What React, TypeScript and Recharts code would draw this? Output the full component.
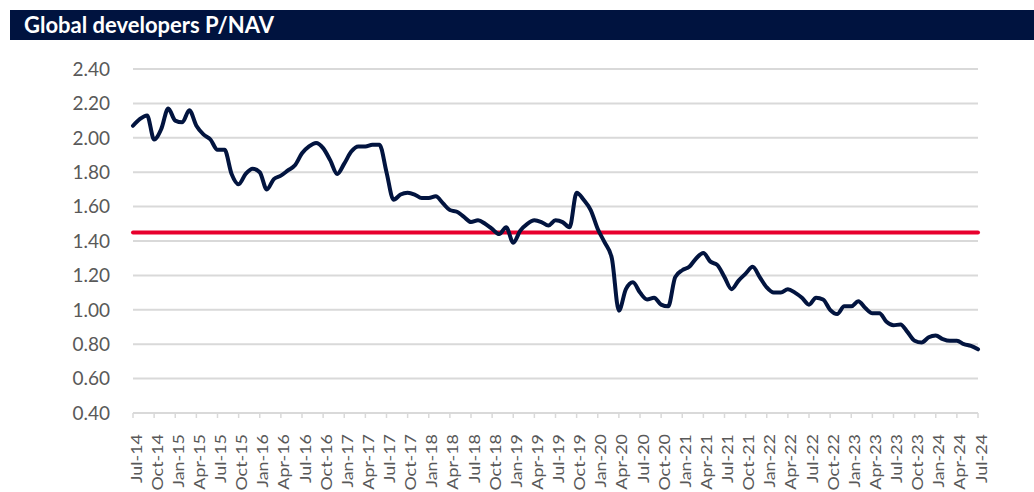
import { CartesianGrid, Line, LineChart, XAxis, YAxis } from "recharts";

const monthNames = ["Jan", "Feb", "Mar", "Apr", "May", "Jun", "Jul", "Aug", "Sep", "Oct", "Nov", "Dec"];

// monthly P/NAV, Jul-14 .. Jul-24
const pnav = [
  2.07, 2.11, 2.13, 1.99, 2.05, 2.17, 2.1, 2.09, 2.16, 2.07, 2.02, 1.99,
  1.93, 1.93, 1.79, 1.73, 1.79, 1.82, 1.8, 1.7, 1.76, 1.78, 1.81, 1.84,
  1.91, 1.95, 1.97, 1.94, 1.87, 1.79, 1.85, 1.92, 1.95, 1.95, 1.96, 1.96,
  1.8, 1.64, 1.67, 1.68, 1.67, 1.65, 1.65, 1.66, 1.62, 1.58, 1.57, 1.54,
  1.51, 1.52, 1.5, 1.47, 1.44, 1.48, 1.39, 1.46, 1.5, 1.52, 1.51, 1.49,
  1.52, 1.51, 1.48, 1.68, 1.64, 1.58, 1.47, 1.39, 1.3, 0.995, 1.12, 1.16,
  1.1, 1.06, 1.07, 1.03, 1.02, 1.19, 1.23, 1.25, 1.3, 1.33, 1.28, 1.26,
  1.19, 1.12, 1.17, 1.21, 1.25, 1.19, 1.13, 1.1, 1.1, 1.12, 1.1, 1.07,
  1.03, 1.07, 1.06, 1.0, 0.975, 1.02, 1.02, 1.05, 1.01, 0.98, 0.98, 0.93,
  0.91, 0.915, 0.87, 0.82, 0.81, 0.84, 0.85, 0.83, 0.82, 0.82, 0.8, 0.79,
  0.77,
];

const average = 1.45;
const yTicks = [0.4, 0.6, 0.8, 1.0, 1.2, 1.4, 1.6, 1.8, 2.0, 2.2, 2.4];

const NAVY = "#02143f";
const RED = "#e8002d";
const GRID = "#d9d9d9";
const TEXT = "#595959";
const FONT = "Lato, 'Open Sans', sans-serif";

// Jul-14 start
const data = pnav.map((v, i) => {
  const m = (6 + i) % 12;
  const yr = 14 + Math.floor((6 + i) / 12);
  return { month: `${monthNames[m]}-${yr}`, pnav: v, avg: average };
});

function MonthTick({ x, y, payload }: { x?: number; y?: number; payload?: { value: string } }) {
  const tx = (x ?? 0) + 3;
  const ty = (y ?? 0) + 14;
  return (
    <text
      transform={`translate(${tx}, ${ty}) rotate(-90) scale(1.12, 1)`}
      textAnchor="end"
      dy="0.35em"
      fontSize={16}
      fill={TEXT}
      fontFamily={FONT}
    >
      {payload?.value}
    </text>
  );
}

export default function App() {
  return (
    <div style={{ position: "relative", width: 1034, height: 492, background: "#fff" }}>
      <style>{"body{margin:0}"}</style>
      <div
        style={{
          position: "absolute",
          left: 10,
          top: 10,
          width: 1024,
          height: 30,
          background: "#00133f",
          color: "#fff",
          fontFamily: FONT,
          fontWeight: 700,
          fontSize: 22,
          lineHeight: "30px",
          paddingLeft: 14,
          boxSizing: "border-box",
        }}
      >
        Global developers P/NAV
      </div>
      <LineChart width={1034} height={492} data={data} margin={{ top: 69, right: 56, left: 0, bottom: 0 }}>
        <CartesianGrid vertical={false} stroke={GRID} strokeWidth={2} />
        <XAxis
          dataKey="month"
          interval={2}
          height={79}
          tick={<MonthTick />}
          tickSize={5}
          tickLine={{ stroke: GRID, strokeWidth: 1.5 }}
          axisLine={{ stroke: GRID, strokeWidth: 2 }}
        />
        <YAxis
          domain={[0.4, 2.4]}
          ticks={yTicks}
          width={133}
          axisLine={false}
          tickLine={false}
          tickSize={0}
          tickMargin={23}
          tickFormatter={(v: number) => v.toFixed(2)}
          tick={{ fontSize: 19, fill: TEXT, fontFamily: FONT }}
        />
        <Line
          dataKey="avg"
          stroke={RED}
          strokeWidth={4}
          strokeLinecap="round"
          dot={false}
          isAnimationActive={false}
        />
        <Line
          type="monotone"
          dataKey="pnav"
          stroke={NAVY}
          strokeWidth={4}
          strokeLinecap="round"
          strokeLinejoin="round"
          dot={false}
          isAnimationActive={false}
        />
      </LineChart>
    </div>
  );
}
